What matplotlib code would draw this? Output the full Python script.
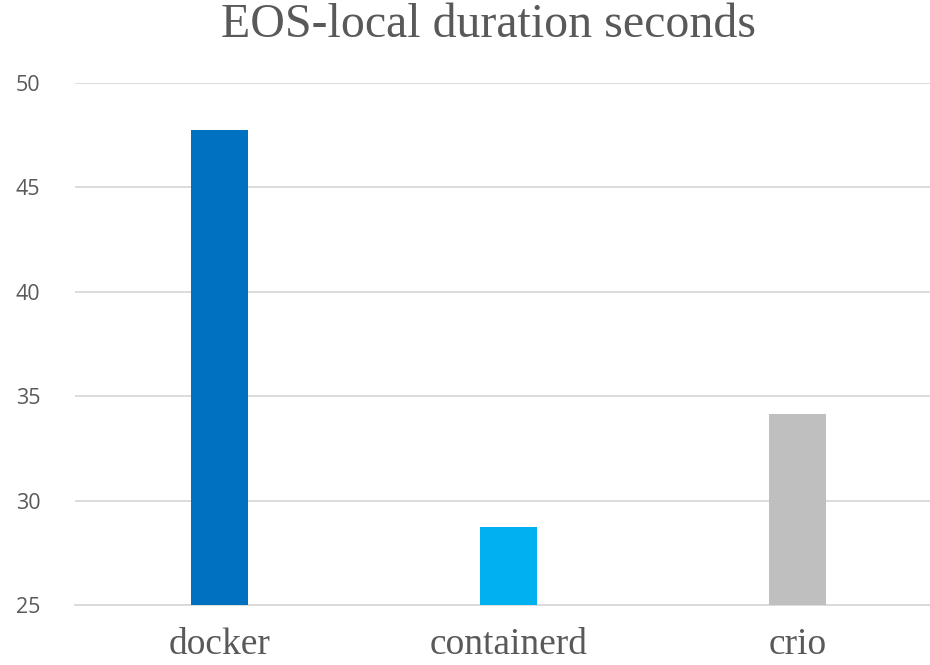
import matplotlib.pyplot as plt

# values
categories = ["docker", "containerd", "crio"]
durations = [47.75, 28.75, 34.15]
bar_colors = ["#0070C0", "#00B0F0", "#BFBFBF"]
yticks = [25, 30, 35, 40, 45, 50]

fig = plt.figure(figsize=(9.3, 6.65), dpi=100)
# axes runs past the right edge, like the original
ax = fig.add_axes([75 / 930, 60 / 665, 867 / 930, 522 / 665])

x = range(len(categories))
ax.bar(x, durations, width=0.2, color=bar_colors, zorder=3)

ax.set_xlim(-0.5, 2.5)
ax.set_ylim(25, 50)
ax.set_yticks(yticks)
ax.set_xticks(list(x))
ax.set_xticklabels(categories, family="Liberation Serif", fontsize=27, color="#595959")
for lab in ax.get_yticklabels():
    lab.set_family("Open Sans")
    lab.set_fontsize(15.5)
    lab.set_color("#595959")

ax.grid(axis="y", color="#D9D9D9", linewidth=1.3, zorder=0)
ax.tick_params(axis="both", length=0)
ax.tick_params(axis="y", pad=25)
ax.tick_params(axis="x", pad=16)
for s in ["top", "right", "left"]:
    ax.spines[s].set_visible(False)
ax.spines["bottom"].set_color("#D9D9D9")
ax.spines["bottom"].set_linewidth(1.3)

fig.text(488 / 930, 0.962, "EOS-local duration seconds", ha="center", va="center",
         family="Liberation Serif", fontsize=34.5, color="#595959")

fig.savefig("out.png", dpi=100)
